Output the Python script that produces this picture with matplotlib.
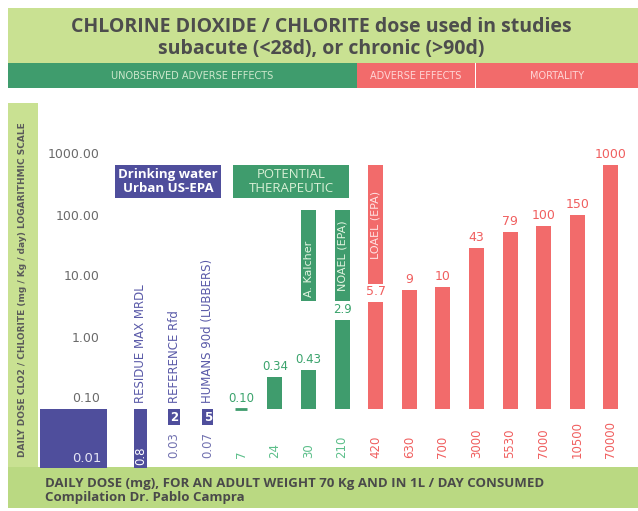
import matplotlib
matplotlib.use("Agg")
import matplotlib.pyplot as plt
from matplotlib.patches import Rectangle
import matplotlib.transforms as mtransforms
import numpy as np

# ---------------- data ----------------
title_lines = ["CHLORINE DIOXIDE / CHLORITE dose used in studies",
               "subacute (<28d), or chronic (>90d)"]
header_labels = ["UNOBSERVED ADVERSE EFFECTS", "ADVERSE EFFECTS", "MORTALITY"]

y_ticks = [0.1, 1, 10, 100, 1000]

blue_names = ["RESIDUE MAX MRDL", "REFERENCE Rfd", "HUMANS 90d (LUBBERS)"]
blue_dose_mg = ["0.8", "2", "5"]
blue_dose_mgkg = ["0.01", "0.03", "0.07"]

green_dose_mg = ["7", "24", "30", "210"]
green_values = [0.10, 0.34, 0.43, 2.9]
green_value_labels = ["0.10", "0.34", "0.43", "2.9"]

red_dose_mg = ["420", "630", "700", "3000", "5530", "7000", "10500", "70000"]
red_values = [5.7, 9, 10, 43, 79, 100, 150, 1000]
red_value_labels = ["5.7", "9", "10", "43", "79", "100", "150", "1000"]

ylabel = "DAILY DOSE CLO2 / CHLORITE (mg / Kg / day) LOGARITHMIC SCALE"
footer1 = "DAILY DOSE (mg), FOR AN ADULT WEIGHT 70 Kg AND IN 1L / DAY CONSUMED"
footer2 = "Compilation Dr. Pablo Campra"

# ---------------- style ----------------
FONT = ["Open Sans", "DejaVu Sans"]
WIDE = ["DejaVu Sans"]
plt.rcParams['font.family'] = FONT
C_GREEN = "#3f9c6d"
C_RED = "#f26b6b"
C_BLUE = "#4f4e9c"
C_BAND = "#c9e192"
C_BAND2 = "#bad982"
C_GREEN_TXT = "#3aa36c"
C_RED_TXT = "#f05f5f"
C_BLUE_TXT = "#5a5aa8"

W, H = 638, 511
fig = plt.figure(figsize=(W / 100, H / 100), dpi=100)
fig.patch.set_facecolor("white")


def prect(x, y, w, h, color, z=-5):
    fig.add_artist(Rectangle((x / W, 1 - (y + h) / H), w / W, h / H,
                             transform=fig.transFigure, facecolor=color,
                             edgecolor="none", zorder=z))


def ptext(x, y, s, **kw):
    fig.text(x / W, 1 - y / H, s, **kw)


# backgrounds
prect(8, 8, 630, 55, C_BAND)
prect(8, 103, 30, 366, C_BAND)
prect(8, 467, 630, 41, C_BAND2)
prect(8, 63, 349, 25, C_GREEN)
prect(357, 63, 118, 25, C_RED)
prect(476, 63, 162, 25, C_RED)

ptext(321, 27, title_lines[0], ha="center", va="center", fontsize=14,
      fontweight="bold", color="#4d4d4d")
ptext(321, 49, title_lines[1], ha="center", va="center", fontsize=14,
      fontweight="bold", color="#4d4d4d")
ptext(192, 76, header_labels[0], ha="center", va="center", fontsize=7,
      color="#cde8cc", family=WIDE)
ptext(416, 76, header_labels[1], ha="center", va="center", fontsize=7,
      color="#ffd6d6", family=WIDE)
ptext(557, 76, header_labels[2], ha="center", va="center", fontsize=7,
      color="#ffd6d6", family=WIDE)
ptext(23, 290, ylabel, ha="center", va="center", rotation=90, fontsize=6.5,
      fontweight="bold", color="#5a5a5a", family=WIDE)
ptext(45, 483, footer1, ha="left", va="center", fontsize=9.5,
      fontweight="bold", color="#4a4a4a")
ptext(45, 498, footer2, ha="left", va="center", fontsize=9.5,
      fontweight="bold", color="#4a4a4a")

# ---------------- main axes ----------------
PX_DEC = 61.0          # pixels per decade
BASE_PX = 409.0        # pixel of 0.1 baseline
COL0_PX = 140.5        # pixel of first column
COL_PX = 33.6          # pixels per column
ax_left, ax_right, ax_top, ax_bot = 38, 638, 100, 468
ax = fig.add_axes([ax_left / W, 1 - ax_bot / H, (ax_right - ax_left) / W,
                   (ax_bot - ax_top) / H])
ax.set_facecolor("none")
ax.set_yscale("log")
ax.set_xlim((ax_left - COL0_PX) / COL_PX, (ax_right - COL0_PX) / COL_PX)
ax.set_ylim(10 ** (-1 - (ax_bot - BASE_PX) / PX_DEC),
            10 ** (-1 + (BASE_PX - ax_top) / PX_DEC))
ax.axis("off")

base = 0.1
ylo = ax.get_ylim()[0]
bw = 0.45
off = lambda dy: mtransforms.offset_copy(ax.transData, fig=fig, y=dy, units="dots")
xaxes = mtransforms.blended_transform_factory(ax.transData, ax.transAxes)
yaxes = mtransforms.blended_transform_factory(ax.transAxes, ax.transData)

# y tick labels
for t in y_ticks:
    ax.text((100 - ax_left) / (ax_right - ax_left), t, f"{t:.2f}", ha="right",
            va="center", fontsize=9, color="#6a6a6a", family=WIDE,
            transform=mtransforms.offset_copy(yaxes, fig=fig, y=10, units="dots"))

x_lab_y = (ax_bot - 458) / (ax_bot - ax_top)

# blue section
ax.add_patch(Rectangle((-3, ylo), 2, base - ylo, facecolor=C_BLUE,
                       edgecolor="none", clip_on=False))
ax.text(-1.6, ylo, blue_dose_mgkg[0], ha="center", va="bottom", fontsize=9.5,
        color="#e6e6f5", family=WIDE, transform=off(3))
for i, (nm, mg, kg) in enumerate(zip(blue_names, blue_dose_mg, blue_dose_mgkg)):
    ax.text(i, base, nm, rotation=90, ha="center", va="bottom", fontsize=8.5,
            color=C_BLUE_TXT, family=WIDE, transform=off(6))
    if i == 0:
        ax.add_patch(Rectangle((i - bw / 2 + 0.03, ylo), bw - 0.06, base - ylo,
                               facecolor=C_BLUE, edgecolor="none"))
        ax.text(i, ylo, mg, rotation=90, ha="center", va="bottom", fontsize=8.5,
                color="white", family=WIDE, transform=off(3))
    else:
        lo = 10 ** (-1 - 16 / PX_DEC)
        ax.add_patch(Rectangle((i - 0.17, lo), 0.34, base - lo,
                               facecolor=C_BLUE, edgecolor="none"))
        ax.text(i, np.sqrt(lo * base), mg, ha="center", va="center",
                fontsize=8.5, color="white", fontweight="bold", family=WIDE)
        ax.text(i, x_lab_y, kg, rotation=90, ha="center", va="bottom",
                fontsize=8.5, color="#7272b0", family=WIDE, transform=xaxes)

# boxes
ax.add_patch(Rectangle((-0.76, 288), 3.16, 1000 - 288, facecolor=C_BLUE,
                       edgecolor="none"))
ax.text(0.82, np.sqrt(288 * 1000), "Drinking water\nUrban US-EPA",
        ha="center", va="center", fontsize=9.5, color="white",
        fontweight="bold", linespacing=1.1)
ax.add_patch(Rectangle((2.75, 288), 3.46, 1000 - 288, facecolor=C_GREEN,
                       edgecolor="none"))
ax.text(4.48, np.sqrt(288 * 1000), "POTENTIAL\nTHERAPEUTIC",
        ha="center", va="center", fontsize=9.5, color="#d9f0d6",
        linespacing=1.05)

# green bars
gx = np.arange(len(green_values)) + 3
gh = [max(v - base, 0) for v in green_values]
ax.bar(gx, gh, bottom=base, width=bw, color=C_GREEN, edgecolor="none")
for x, v, lab in zip(gx, green_values, green_value_labels):
    if v <= base:
        ax.plot([x - 0.18, x + 0.18], [v, v], color=C_GREEN, lw=2,
                solid_capstyle="butt")
    ax.text(x, v, lab, ha="center", va="bottom", fontsize=8.5,
            color=C_GREEN_TXT, family=WIDE, transform=off(4))
for x, lab in zip(gx, green_dose_mg):
    ax.text(x, x_lab_y, lab, rotation=90, ha="center", va="bottom",
            fontsize=8.5, color="#5cbf8a", family=WIDE, transform=xaxes)

# red bars
rx = np.arange(len(red_values)) + 7
ax.bar(rx, [v - base for v in red_values], bottom=base, width=bw,
       color=C_RED, edgecolor="none")
for x, v, lab in zip(rx, red_values, red_value_labels):
    ax.text(x, v, lab, ha="center", va="bottom", fontsize=9,
            color=C_RED_TXT, family=WIDE, transform=off(4))
for x, lab in zip(rx, red_dose_mg):
    ax.text(x, x_lab_y, lab, rotation=90, ha="center", va="bottom",
            fontsize=8.5, color=C_RED_TXT, family=WIDE, transform=xaxes)

# label boxes above bars
ax.add_patch(Rectangle((5 - bw / 2, 6), bw, 180 - 6, facecolor=C_GREEN,
                       edgecolor="none"))
ax.text(5, 6, "A. Kalcher", rotation=90, ha="center", va="bottom",
        fontsize=8, color="#e3f4e0", family=WIDE, transform=off(4))
ax.add_patch(Rectangle((6 - bw / 2, 6), bw, 180 - 6, facecolor=C_GREEN,
                       edgecolor="none"))
ax.text(6, np.sqrt(6 * 180), "NOAEL (EPA)", rotation=90, ha="center",
        va="center", fontsize=8, color="#e3f4e0", family=WIDE)
ax.add_patch(Rectangle((7 - bw / 2, 11), bw, 1000 - 11, facecolor=C_RED,
                       edgecolor="none"))
ax.text(7, np.sqrt(11 * 1000), "LOAEL (EPA)", rotation=90, ha="center",
        va="center", fontsize=8, color="#ffe3e3", family=WIDE)

fig.savefig("out.png", dpi=100, facecolor="white")
